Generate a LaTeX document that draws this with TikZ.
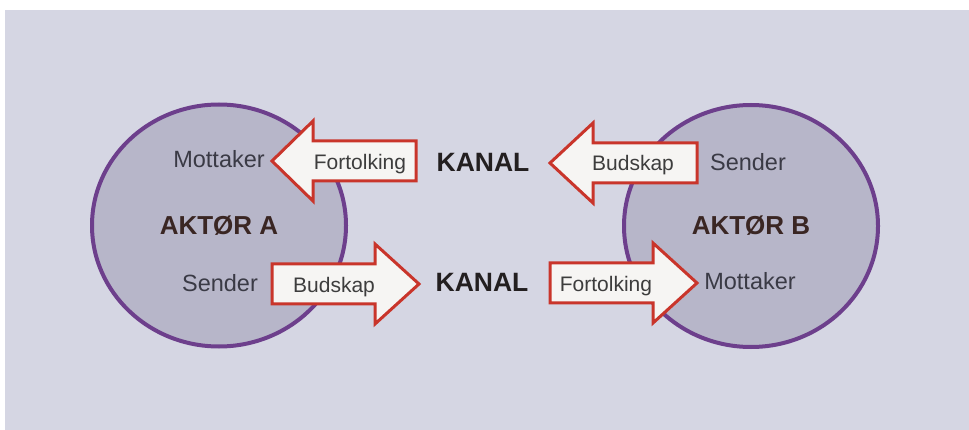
\documentclass[tikz,border=0pt]{standalone}
\usepackage{fontspec}
\setmainfont{Liberation Sans}
\usetikzlibrary{shapes.geometric}

\definecolor{pagebg}{HTML}{D5D6E3}
\definecolor{actorfill}{HTML}{B7B6C9}
\definecolor{actorline}{HTML}{6D3F8C}
\definecolor{arrowline}{HTML}{C9352B}
\definecolor{arrowfill}{HTML}{F6F5F3}
\definecolor{headtext}{HTML}{3A2623}
\definecolor{kanaltext}{HTML}{231F20}
\definecolor{roletext}{HTML}{3A3A45}
\definecolor{msgtext}{HTML}{3D3D3D}

\tikzset{
  actor/.style={ellipse, draw=actorline, line width=4pt, fill=actorfill,
    minimum width=254pt, minimum height=242pt, inner sep=0pt,
    text=headtext, font=\bfseries\fontsize{26}{30}\selectfont},
  kanal/.style={anchor=base, inner sep=0pt, text=kanaltext,
    font=\bfseries\fontsize{26.5}{30}\selectfont},
  role/.style={anchor=base, inner sep=0pt, text=roletext,
    font=\fontsize{23.5}{28}\selectfont},
  msglabel/.style={anchor=base, inner sep=0pt, text=msgtext,
    font=\fontsize{21}{25}\selectfont},
  msgbody/.style={draw=arrowline, fill=arrowfill, line width=3pt,
    line join=miter, miter limit=20}
}

% Block arrow: tip x, centre y, head base x, tail x
\newcommand\msgarrow[4]{%
  \draw[msgbody] (#1,#2) -- (#3,#2-40) -- (#3,#2-20) -- (#4,#2-20)
    -- (#4,#2+20) -- (#3,#2+20) -- (#3,#2+40) -- cycle;}

\begin{document}
\begin{tikzpicture}[x=1pt,y=-1pt]
\useasboundingbox (0,0) rectangle (969,430);
\fill[white] (0,0) rectangle (969,430);
\fill[pagebg] (5,10) rectangle (969,430);

% the two actors
\node[actor] (aktorA) at (219,225.5) {AKTØR A};
\node[actor] (aktorB) at (751,226) {AKTØR B};

% message arrows
\msgarrow{272}{161}{313}{416}
\msgarrow{550}{163}{593}{697}
\msgarrow{419}{284}{375}{272}
\msgarrow{697}{283}{653}{550}

% roles inside the actors
\node[role] (mottakerA) at (219,168) {Mottaker};
\node[role] (senderA)   at (220,291) {Sender};
\node[role] (senderB)   at (748,171) {Sender};
\node[role] (mottakerB) at (750,290) {Mottaker};

% channels
\node[kanal] (kanalTop) at (483,172) {KANAL};
\node[kanal] (kanalBot) at (482,292) {KANAL};

% labels on the arrows
\node[msglabel] (fortolkingA) at (360,170) {Fortolking};
\node[msglabel] (budskapB)    at (633,171) {Budskap};
\node[msglabel] (budskapA)    at (334,293) {Budskap};
\node[msglabel] (fortolkingB) at (606,291) {Fortolking};
\end{tikzpicture}
\end{document}
